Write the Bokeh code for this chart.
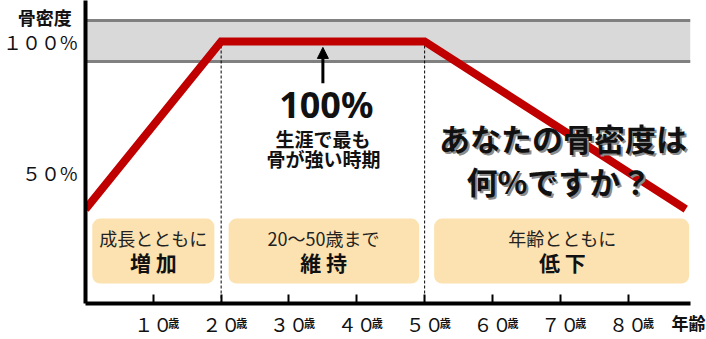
from bokeh.plotting import figure
from bokeh.models import Range1d, FixedTicker, ColumnDataSource, Arrow, NormalHead
from bokeh.core.properties import value
from bokeh.embed import file_html
from bokeh.resources import INLINE

JP = "Noto Sans CJK JP"

# ---- data ----
ages = [0, 20, 50, 88.5]
density = [36, 100, 100, 36]
peak_band = [92.4, 108]
phase_edges = [20, 50]
phase_tops = [100, 100]
phase_left = [1.0, 21.1, 51.4]
phase_right = [19.0, 49.2, 89.0]
phase_center = [10.0, 35.1, 70.3]
phase_line1 = ["成長とともに", "20～50歳まで", "年齢とともに"]
phase_line2 = ["増 加", "維 持", "低 下"]
age_ticks = [10, 20, 30, 40, 50, 60, 70, 80]
age_tick_labels = ["１０", "２０", "３０", "４０", "５０", "６０", "７０", "８０"]
age_unit = ["歳"] * len(age_ticks)
density_ticks = [50, 100]
density_tick_labels = ["５０%", "１００%"]

# ---- layout constants (annotation positions in data units) ----
BOX_BOTTOM, BOX_TOP = 7.6, 32.4
LINE1_Y, LINE2_Y = 25.1, 15.8
ARROW_X, ARROW_Y0, ARROW_Y1 = 35.0, 84.0, 97.7
TICK_LABEL_Y = -7.6

p = figure(width=706, height=339, output_backend="svg", toolbar_location=None,
           x_range=Range1d(0, 89.2), y_range=Range1d(0, 115.6),
           min_border_left=85, min_border_right=16, min_border_top=0, min_border_bottom=36)
p.xgrid.visible = False
p.ygrid.visible = False
p.outline_line_color = None
p.background_fill_color = "white"
p.border_fill_color = "white"

# y axis
ya = p.yaxis[0]
ya.ticker = FixedTicker(ticks=density_ticks)
ya.major_label_overrides = dict(zip(density_ticks, density_tick_labels))
ya.axis_line_width = 4
ya.axis_line_color = "black"
ya.major_tick_in = 0
ya.major_tick_out = 0
ya.minor_tick_in = 0
ya.minor_tick_out = 0
ya.major_label_text_font = JP
ya.major_label_text_font_size = "19px"
ya.major_label_text_color = "#111111"
ya.major_label_standoff = 8

# x axis
xa = p.xaxis[0]
xa.ticker = FixedTicker(ticks=age_ticks)
xa.major_label_overrides = dict(zip(age_ticks, age_tick_labels))
xa.axis_line_width = 4
xa.axis_line_color = "black"
xa.major_tick_in = 9
xa.major_tick_out = 0
xa.major_tick_line_width = 2
xa.major_tick_line_color = "black"
xa.minor_tick_in = 0
xa.minor_tick_out = 0
xa.major_label_text_font = JP
xa.major_label_text_font_size = "19px"
xa.major_label_text_color = "#111111"
xa.major_label_standoff = 6

# peak band
p.hstrip(y0=[peak_band[0]], y1=[peak_band[1]], fill_color="#d9d9d9", line_color=None)
p.hspan(y=peak_band, line_color="#808080", line_width=3)

# phase boxes
box_src = ColumnDataSource(dict(left=phase_left, right=phase_right,
                                bottom=[BOX_BOTTOM] * 3, top=[BOX_TOP] * 3,
                                cx=phase_center, l1=phase_line1, l2=phase_line2,
                                y1=[LINE1_Y] * 3, y2=[LINE2_Y] * 3))
p.quad(left="left", right="right", bottom="bottom", top="top", source=box_src,
       fill_color="#fce2b0", line_color=None, border_radius=8)
p.text(x="cx", y="y1", text="l1", source=box_src, text_font=value(JP),
       text_font_size="18px", text_align="center", text_baseline="middle", text_color="#222222")
p.text(x="cx", y="y2", text="l2", source=box_src, text_font=value(JP), text_font_style="bold",
       text_font_size="21px", text_align="center", text_baseline="middle", text_color="#111111")

# dashed phase edges
p.segment(x0=phase_edges, y0=[0, 0], x1=phase_edges, y1=phase_tops,
          line_color="black", line_width=1, line_dash="3 2")

# bone density curve
p.line(ages, density, line_color="#c00000", line_width=8, line_join="miter")

# arrow and peak annotation
p.add_layout(Arrow(x_start=ARROW_X, y_start=ARROW_Y0, x_end=ARROW_X, y_end=ARROW_Y1,
                   line_width=3, line_color="black",
                   end=NormalHead(size=11, fill_color="black", line_color="black")))
p.text(x=[35.5], y=[76.1], text=["100%"], text_font=value("Noto Sans"), text_font_style="bold",
       text_font_size="36px", text_align="center", text_baseline="middle", text_color="#111111")
p.text(x=[35.0, 35.1], y=[62.9, 55.3], text=["生涯で最も", "骨が強い時期"], text_font=value(JP),
       text_font_style="bold", text_font_size="19px", text_align="center", text_baseline="middle",
       text_color="#111111")

# question text with shadow
q_x = [70.4, 69.8]
q_y = [63.5, 47.0]
q_t = ["あなたの骨密度は", "何%ですか？"]
p.text(x=q_x, y=q_y, text=q_t, x_offset=2, y_offset=2, text_font=value(JP), text_font_style="bold",
       text_font_size="31px", text_align="center", text_baseline="middle", text_color="#8c8c8c")
p.text(x=q_x, y=q_y, text=q_t, text_font=value(JP), text_font_style="bold",
       text_font_size="31px", text_align="center", text_baseline="middle", text_color="#111111")

# texts outside the frame (overlay level so they are not clipped)
p.text(x=age_ticks, y=[TICK_LABEL_Y] * len(age_ticks), text=age_unit, x_offset=15,
       text_font=value(JP), text_font_style="bold", text_font_size="11px",
       text_align="left", text_baseline="middle", text_color="#111111", level="overlay")
p.text(x=[88.9], y=[-7.3], text=["年齢"], text_font=value(JP), text_font_style="bold",
       text_font_size="17px", text_align="center", text_baseline="middle",
       text_color="#111111", level="overlay")
p.text(x=[-6.0], y=[109.2], text=["骨密度"], text_font=value(JP), text_font_style="bold",
       text_font_size="18px", text_align="center", text_baseline="middle",
       text_color="#111111", level="overlay")

open("out.html", "w").write(file_html(p, INLINE))
